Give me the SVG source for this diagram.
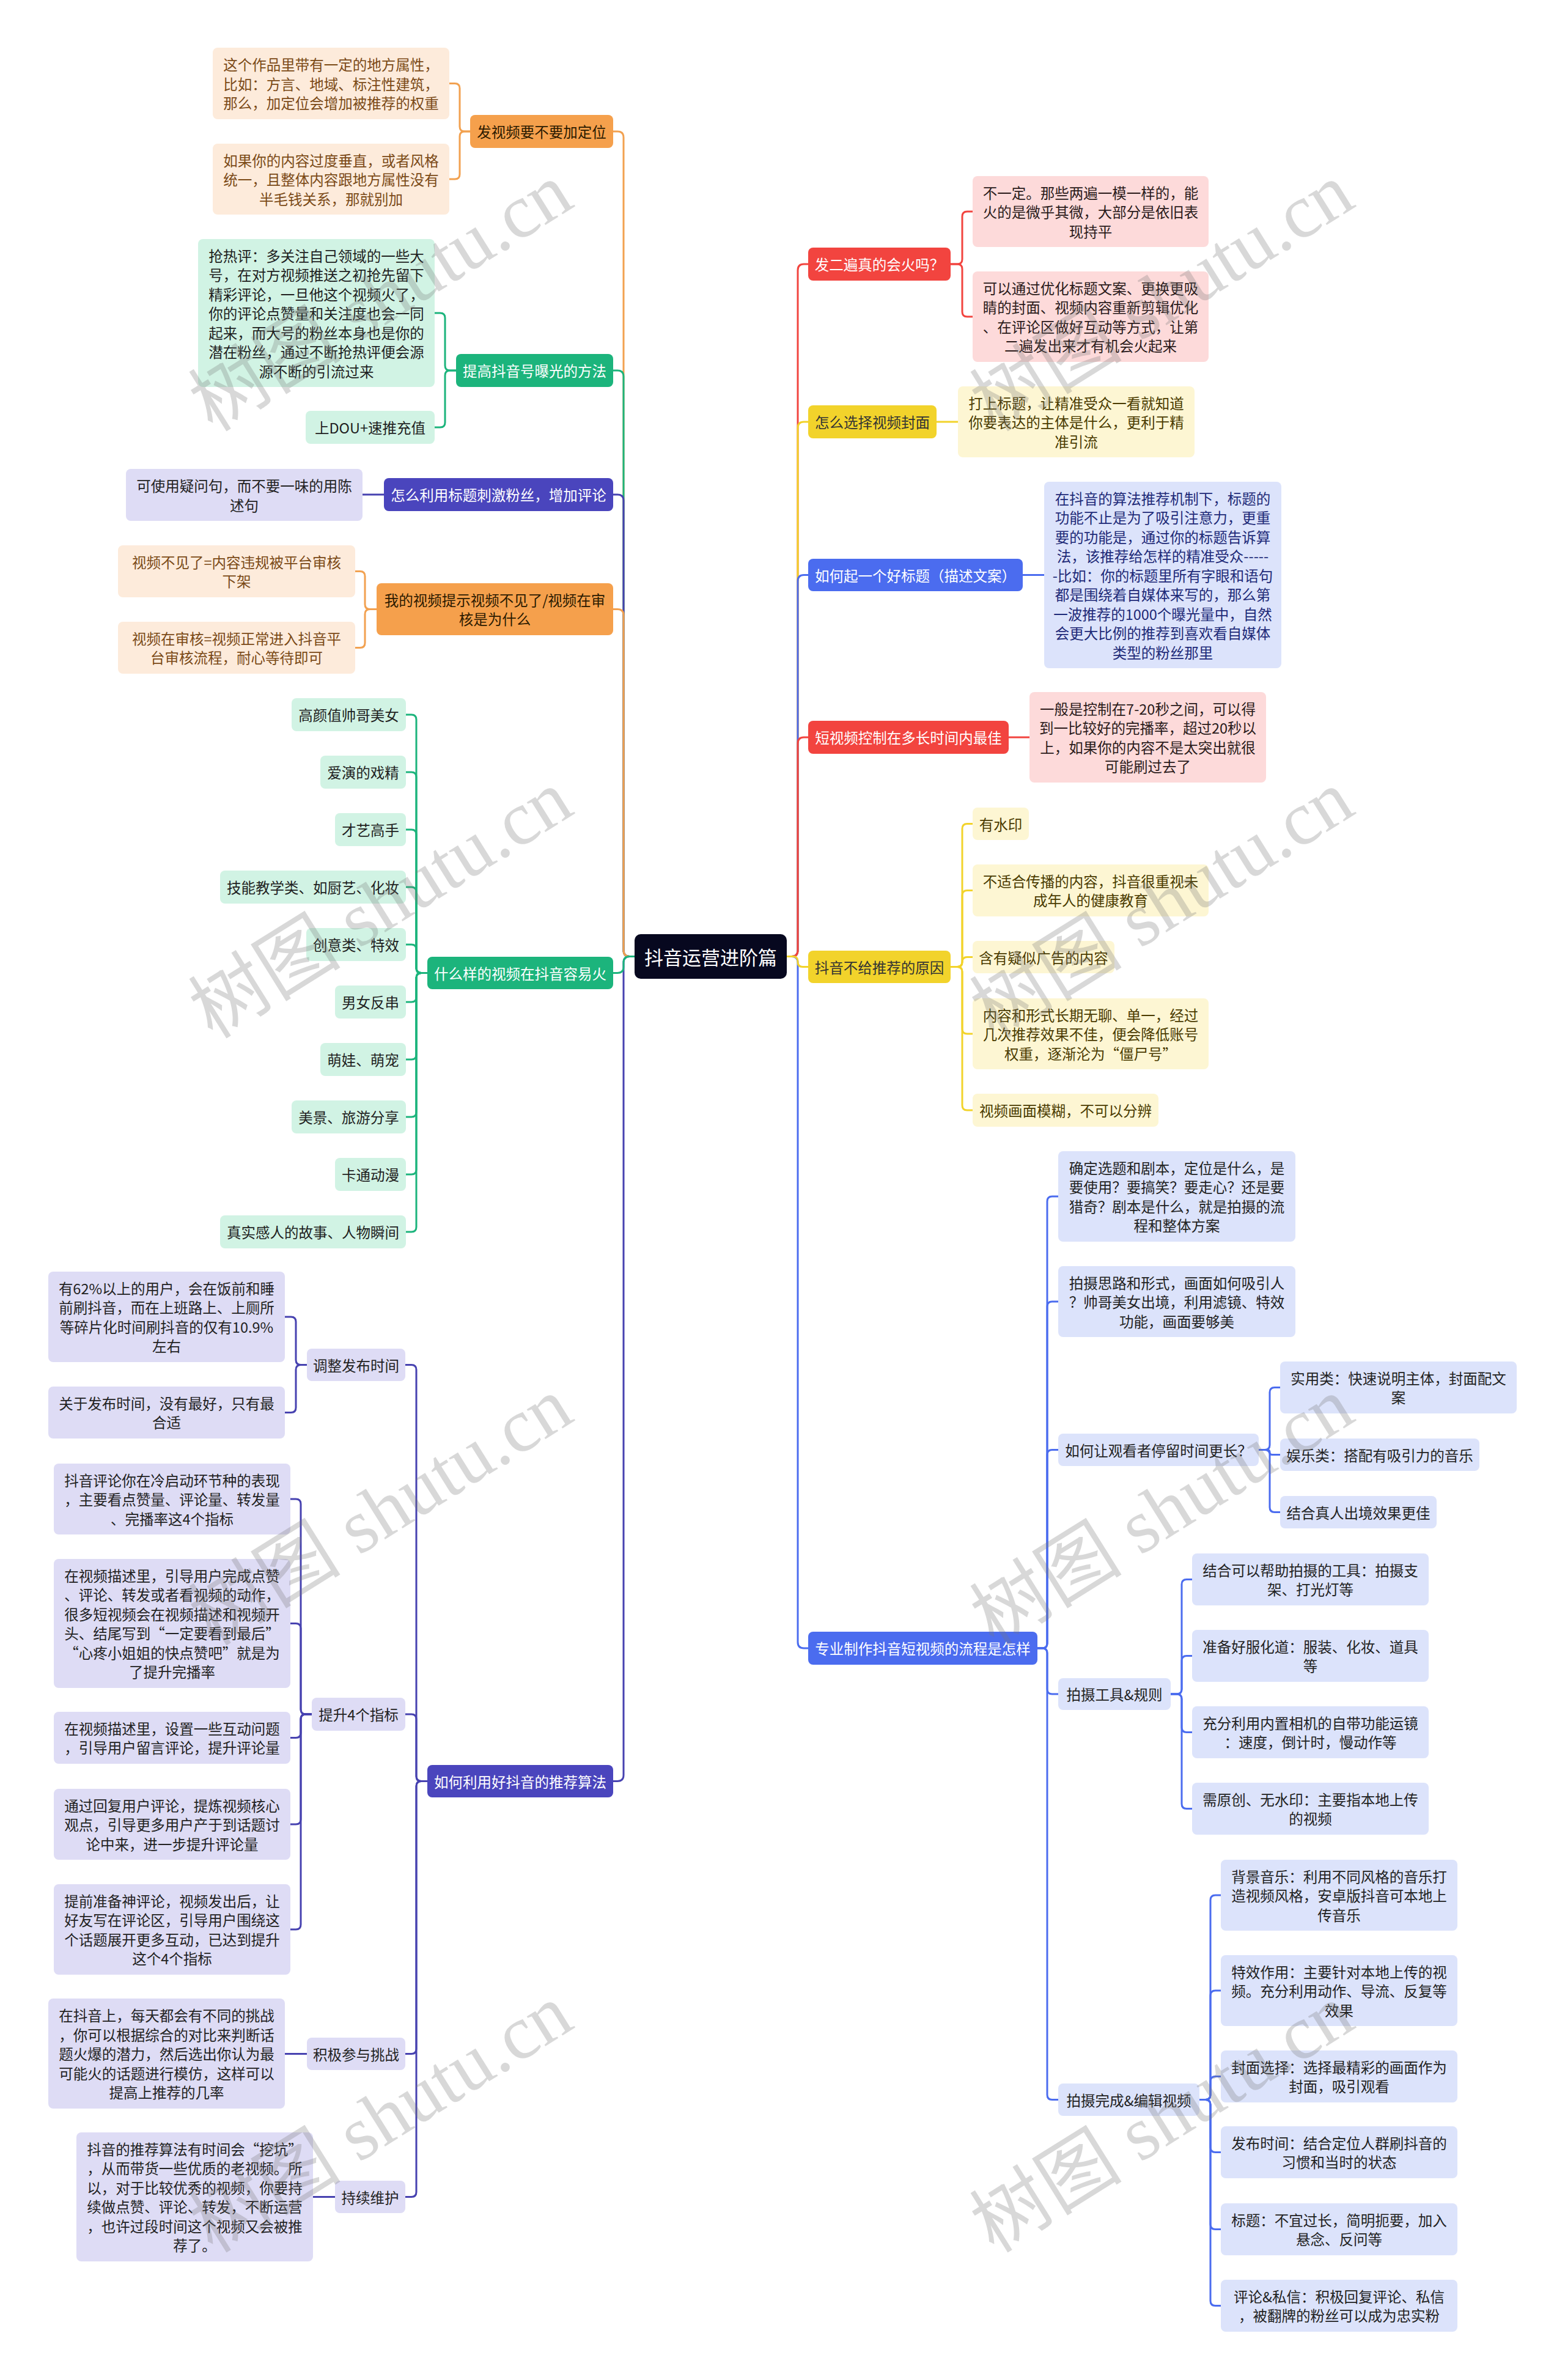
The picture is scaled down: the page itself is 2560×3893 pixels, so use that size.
<svg xmlns="http://www.w3.org/2000/svg" width="2560" height="3893" viewBox="0 0 2560 3893">
<style>
text{font-family:"Noto Sans CJK SC","Noto Sans",sans-serif;font-size:23.5px;text-anchor:middle;dominant-baseline:central}
.c{fill:none;stroke-width:3;stroke-linecap:round;stroke-linejoin:round}
.co{stroke:#F2A150}.cg{stroke:#1CB47C}.ci{stroke:#4742B0}.cr{stroke:#F2443F}.cy{stroke:#F2D32B}.cb{stroke:#4B6CEF}
.no rect{fill:#F5A04C}.no text{fill:#2b1a00}
.ng rect{fill:#1CB47C}.ng text{fill:#fff}
.ni rect{fill:#4A45BD}.ni text{fill:#fff}
.nr rect{fill:#F2443F}.nr text{fill:#fff}
.ny rect{fill:#F2D32B}.ny text{fill:#333}
.nb rect{fill:#4B6CEF}.nb text{fill:#fff}
.lo rect{fill:#FDEBDB}.lo text{fill:#7B4A17}
.lg rect{fill:#D1F3E4}.lg text{fill:#1f1f1f}
.li rect{fill:#DEDCF5}.li text{fill:#222}
.lr rect{fill:#FDDADA}.lr text{fill:#2a1a1a}
.ly rect{fill:#FDF6D3}.ly text{fill:#4a3b00}
.lb rect{fill:#DCE3FB}.lb text{fill:#222}
.lbn text{fill:#1E2A78}
.wm{font-family:"Liberation Serif","Noto Sans CJK SC",serif;font-size:125px;fill:#777;opacity:0.28;text-anchor:start;dominant-baseline:alphabetic}
</style>
<g id="connectors">
<path class="c co" d="M1038,1564.5 H1030 Q1020,1564.5 1020,1554.5 V225 Q1020,215 1010,215 H1003"/>
<path class="c ci" d="M1038,1564.5 H1030 Q1020,1564.5 1020,1574.5 V2903.5 Q1020,2913.5 1010,2913.5 H1003"/>
<path class="c cg" d="M1038,1564.5 H1030 Q1020,1564.5 1020,1554.5 V616 Q1020,606 1010,606 H1003"/>
<path class="c ci" d="M1038,1564.5 H1030 Q1020,1564.5 1020,1554.5 V819 Q1020,809 1010,809 H1003"/>
<path class="c co" d="M1038,1564.5 H1030 Q1020,1564.5 1020,1554.5 V1006.5 Q1020,996.5 1010,996.5 H1003"/>
<path class="c cg" d="M1038,1564.5 H1030 Q1020,1564.5 1020,1574.5 V1581.5 Q1020,1591.5 1010,1591.5 H1003"/>
<path class="c cr" d="M1287,1564.5 H1295 Q1305,1564.5 1305,1554.5 V442 Q1305,432 1315,432 H1322"/>
<path class="c cb" d="M1287,1564.5 H1295 Q1305,1564.5 1305,1574.5 V2686 Q1305,2696 1315,2696 H1322"/>
<path class="c cy" d="M1287,1564.5 H1295 Q1305,1564.5 1305,1554.5 V700 Q1305,690 1315,690 H1322"/>
<path class="c cb" d="M1287,1564.5 H1295 Q1305,1564.5 1305,1554.5 V950.5 Q1305,940.5 1315,940.5 H1322"/>
<path class="c cr" d="M1287,1564.5 H1295 Q1305,1564.5 1305,1554.5 V1216 Q1305,1206 1315,1206 H1322"/>
<path class="c cy" d="M1287,1564.5 H1297 Q1305,1564.5 1305,1572.5 V1573.5 Q1305,1581.5 1313,1581.5 H1322"/>
<path class="c co" d="M769,215 H760 Q752,215 752,207 V144.5 Q752,136.5 744,136.5 H735"/>
<path class="c co" d="M769,215 H760 Q752,215 752,223 V285 Q752,293 744,293 H735"/>
<path class="c cg" d="M746,606 H736 Q728,606 728,598 V520 Q728,512 720,512 H711"/>
<path class="c cg" d="M746,606 H736 Q728,606 728,614 V691 Q728,699 720,699 H711"/>
<path class="c ci" d="M628,809 H593"/>
<path class="c co" d="M616,996.5 H605 Q597,996.5 597,988.5 V942.5 Q597,934.5 589,934.5 H581"/>
<path class="c co" d="M616,996.5 H605 Q597,996.5 597,1004.5 V1051.5 Q597,1059.5 589,1059.5 H581"/>
<path class="c cg" d="M699,1591.5 H689 Q681,1591.5 681,1583.5 V1177 Q681,1169 673,1169 H664"/>
<path class="c cg" d="M699,1591.5 H689 Q681,1591.5 681,1583.5 V1271 Q681,1263 673,1263 H664"/>
<path class="c cg" d="M699,1591.5 H689 Q681,1591.5 681,1583.5 V1365 Q681,1357 673,1357 H664"/>
<path class="c cg" d="M699,1591.5 H689 Q681,1591.5 681,1583.5 V1459 Q681,1451 673,1451 H664"/>
<path class="c cg" d="M699,1591.5 H689 Q681,1591.5 681,1583.5 V1553 Q681,1545 673,1545 H664"/>
<path class="c cg" d="M699,1591.5 H689 Q681,1591.5 681,1599.5 V1631 Q681,1639 673,1639 H664"/>
<path class="c cg" d="M699,1591.5 H689 Q681,1591.5 681,1599.5 V1725 Q681,1733 673,1733 H664"/>
<path class="c cg" d="M699,1591.5 H689 Q681,1591.5 681,1599.5 V1819 Q681,1827 673,1827 H664"/>
<path class="c cg" d="M699,1591.5 H689 Q681,1591.5 681,1599.5 V1913 Q681,1921 673,1921 H664"/>
<path class="c cg" d="M699,1591.5 H689 Q681,1591.5 681,1599.5 V2007 Q681,2015 673,2015 H664"/>
<path class="c ci" d="M699,2913.5 H689 Q681,2913.5 681,2905.5 V2240.5 Q681,2232.5 673,2232.5 H663"/>
<path class="c ci" d="M699,2913.5 H689 Q681,2913.5 681,2905.5 V2812 Q681,2804 673,2804 H663"/>
<path class="c ci" d="M699,2913.5 H689 Q681,2913.5 681,2921.5 V3351.5 Q681,3359.5 673,3359.5 H663"/>
<path class="c ci" d="M699,2913.5 H689 Q681,2913.5 681,2921.5 V3585.5 Q681,3593.5 673,3593.5 H663"/>
<path class="c ci" d="M502,2232.5 H492 Q484,2232.5 484,2224.5 V2162 Q484,2154 476,2154 H466"/>
<path class="c ci" d="M502,2232.5 H492 Q484,2232.5 484,2240.5 V2302.5 Q484,2310.5 476,2310.5 H466"/>
<path class="c ci" d="M510,2804 H500 Q492,2804 492,2796 V2460 Q492,2452 484,2452 H475"/>
<path class="c ci" d="M510,2804 H500 Q492,2804 492,2796 V2663.5 Q492,2655.5 484,2655.5 H475"/>
<path class="c ci" d="M510,2804 H500 Q492,2804 492,2812 V2834.5 Q492,2842.5 484,2842.5 H475"/>
<path class="c ci" d="M510,2804 H500 Q492,2804 492,2812 V2976 Q492,2984 484,2984 H475"/>
<path class="c ci" d="M510,2804 H500 Q492,2804 492,2812 V3148 Q492,3156 484,3156 H475"/>
<path class="c ci" d="M502,3359.5 H466"/>
<path class="c ci" d="M548,3593.5 H512"/>
<path class="c cr" d="M1555,432 H1566 Q1574,432 1574,424 V354 Q1574,346 1582,346 H1591"/>
<path class="c cr" d="M1555,432 H1566 Q1574,432 1574,440 V510 Q1574,518 1582,518 H1591"/>
<path class="c cy" d="M1532,690 H1567"/>
<path class="c cb" d="M1673,940.5 H1708"/>
<path class="c cr" d="M1650,1206 H1684"/>
<path class="c cy" d="M1555,1581.5 H1566 Q1574,1581.5 1574,1573.5 V1355.5 Q1574,1347.5 1582,1347.5 H1591"/>
<path class="c cy" d="M1555,1581.5 H1566 Q1574,1581.5 1574,1573.5 V1464.5 Q1574,1456.5 1582,1456.5 H1591"/>
<path class="c cy" d="M1555,1581.5 H1566 Q1574,1581.5 1574,1573.5 Q1574,1565.5 1582,1565.5 H1591"/>
<path class="c cy" d="M1555,1581.5 H1566 Q1574,1581.5 1574,1589.5 V1683 Q1574,1691 1582,1691 H1591"/>
<path class="c cy" d="M1555,1581.5 H1566 Q1574,1581.5 1574,1589.5 V1808 Q1574,1816 1582,1816 H1591"/>
<path class="c cb" d="M1697,2696 H1705 Q1713,2696 1713,2688 V1965 Q1713,1957 1721,1957 H1731"/>
<path class="c cb" d="M1697,2696 H1705 Q1713,2696 1713,2688 V2137 Q1713,2129 1721,2129 H1731"/>
<path class="c cb" d="M1697,2696 H1705 Q1713,2696 1713,2688 V2379.5 Q1713,2371.5 1721,2371.5 H1731"/>
<path class="c cb" d="M1697,2696 H1705 Q1713,2696 1713,2704 V2763 Q1713,2771 1721,2771 H1731"/>
<path class="c cb" d="M1697,2696 H1705 Q1713,2696 1713,2704 V3426.5 Q1713,3434.5 1721,3434.5 H1731"/>
<path class="c cb" d="M2059,2371.5 H2069 Q2077,2371.5 2077,2363.5 V2277.5 Q2077,2269.5 2085,2269.5 H2094"/>
<path class="c cb" d="M2059,2371.5 H2073 Q2077,2371.5 2077,2375.5 Q2077,2379.5 2081,2379.5 H2094"/>
<path class="c cb" d="M2059,2371.5 H2069 Q2077,2371.5 2077,2379.5 V2465.5 Q2077,2473.5 2085,2473.5 H2094"/>
<path class="c cb" d="M1915,2771 H1925 Q1933,2771 1933,2763 V2591.5 Q1933,2583.5 1941,2583.5 H1950"/>
<path class="c cb" d="M1915,2771 H1925 Q1933,2771 1933,2763 V2716.5 Q1933,2708.5 1941,2708.5 H1950"/>
<path class="c cb" d="M1915,2771 H1925 Q1933,2771 1933,2779 V2825.5 Q1933,2833.5 1941,2833.5 H1950"/>
<path class="c cb" d="M1915,2771 H1925 Q1933,2771 1933,2779 V2950.5 Q1933,2958.5 1941,2958.5 H1950"/>
<path class="c cb" d="M1962,3434.5 H1972 Q1980,3434.5 1980,3426.5 V3108 Q1980,3100 1988,3100 H1997"/>
<path class="c cb" d="M1962,3434.5 H1972 Q1980,3434.5 1980,3426.5 V3264 Q1980,3256 1988,3256 H1997"/>
<path class="c cb" d="M1962,3434.5 H1972 Q1980,3434.5 1980,3426.5 V3404.5 Q1980,3396.5 1988,3396.5 H1997"/>
<path class="c cb" d="M1962,3434.5 H1972 Q1980,3434.5 1980,3442.5 V3512.5 Q1980,3520.5 1988,3520.5 H1997"/>
<path class="c cb" d="M1962,3434.5 H1972 Q1980,3434.5 1980,3442.5 V3638.5 Q1980,3646.5 1988,3646.5 H1997"/>
<path class="c cb" d="M1962,3434.5 H1972 Q1980,3434.5 1980,3442.5 V3763.5 Q1980,3771.5 1988,3771.5 H1997"/>
</g>
<g id="root"><rect x="1038" y="1528" width="249" height="73" rx="10" fill="#07081F"/><text x="1162.5" y="1564.5" style="font-size:31px;fill:#fff">抖音运营进阶篇</text></g>
<g id="n-dingwei" class="no"><rect x="769" y="188" width="234" height="54" rx="8"/><text x="886" y="215">发视频要不要加定位</text></g>
<g id="n-dingwei-1" class="lo"><rect x="348" y="78" width="387" height="117" rx="8"/><text><tspan x="541.5" y="105">这个作品里带有一定的地方属性，</tspan><tspan x="541.5" y="136.5">比如：方言、地域、标注性建筑，</tspan><tspan x="541.5" y="168">那么，加定位会增加被推荐的权重</tspan></text></g>
<g id="n-dingwei-2" class="lo"><rect x="348" y="235" width="387" height="116" rx="8"/><text><tspan x="541.5" y="261.5">如果你的内容过度垂直，或者风格</tspan><tspan x="541.5" y="293">统一，且整体内容跟地方属性没有</tspan><tspan x="541.5" y="324.5">半毛钱关系，那就别加</tspan></text></g>
<g id="n-baoguang" class="ng"><rect x="746" y="579" width="257" height="54" rx="8"/><text x="874.5" y="606">提高抖音号曝光的方法</text></g>
<g id="n-baoguang-1" class="lg"><rect x="324" y="391" width="387" height="242" rx="8"/><text><tspan x="517.5" y="417.5">抢热评：多关注自己领域的一些大</tspan><tspan x="517.5" y="449">号，在对方视频推送之初抢先留下</tspan><tspan x="517.5" y="480.5">精彩评论，一旦他这个视频火了，</tspan><tspan x="517.5" y="512">你的评论点赞量和关注度也会一同</tspan><tspan x="517.5" y="543.5">起来，而大号的粉丝本身也是你的</tspan><tspan x="517.5" y="575">潜在粉丝，通过不断抢热评便会源</tspan><tspan x="517.5" y="606.5">源不断的引流过来</tspan></text></g>
<g id="n-baoguang-2" class="lg"><rect x="500" y="672" width="211" height="54" rx="8"/><text x="605.5" y="699">上DOU+速推充值</text></g>
<g id="n-biaoti" class="ni"><rect x="628" y="782" width="375" height="54" rx="8"/><text x="815.5" y="809">怎么利用标题刺激粉丝，增加评论</text></g>
<g id="n-biaoti-1" class="li"><rect x="206" y="767" width="387" height="85" rx="8"/><text><tspan x="399.5" y="794">可使用疑问句，而不要一味的用陈</tspan><tspan x="399.5" y="825.5">述句</tspan></text></g>
<g id="n-bujian" class="no"><rect x="616" y="954" width="387" height="85" rx="8"/><text><tspan x="809.5" y="980.75">我的视频提示视频不见了/视频在审</tspan><tspan x="809.5" y="1012.25">核是为什么</tspan></text></g>
<g id="n-bujian-1" class="lo"><rect x="193" y="892" width="388" height="85" rx="8"/><text><tspan x="387" y="918.75">视频不见了=内容违规被平台审核</tspan><tspan x="387" y="950.25">下架</tspan></text></g>
<g id="n-bujian-2" class="lo"><rect x="193" y="1017" width="388" height="85" rx="8"/><text><tspan x="387" y="1043.75">视频在审核=视频正常进入抖音平</tspan><tspan x="387" y="1075.25">台审核流程，耐心等待即可</tspan></text></g>
<g id="n-huo" class="ng"><rect x="699" y="1565" width="304" height="53" rx="8"/><text x="851" y="1591.5">什么样的视频在抖音容易火</text></g>
<g id="n-huo-1" class="lg"><rect x="477" y="1142" width="187" height="54" rx="8"/><text x="570.5" y="1169">高颜值帅哥美女</text></g>
<g id="n-huo-2" class="lg"><rect x="524" y="1236" width="140" height="54" rx="8"/><text x="594" y="1263">爱演的戏精</text></g>
<g id="n-huo-3" class="lg"><rect x="548" y="1330" width="116" height="54" rx="8"/><text x="606" y="1357">才艺高手</text></g>
<g id="n-huo-4" class="lg"><rect x="360" y="1424" width="304" height="54" rx="8"/><text x="512" y="1451">技能教学类、如厨艺、化妆</text></g>
<g id="n-huo-5" class="lg"><rect x="501" y="1518" width="163" height="54" rx="8"/><text x="582.5" y="1545">创意类、特效</text></g>
<g id="n-huo-6" class="lg"><rect x="548" y="1612" width="116" height="54" rx="8"/><text x="606" y="1639">男女反串</text></g>
<g id="n-huo-7" class="lg"><rect x="524" y="1706" width="140" height="54" rx="8"/><text x="594" y="1733">萌娃、萌宠</text></g>
<g id="n-huo-8" class="lg"><rect x="477" y="1800" width="187" height="54" rx="8"/><text x="570.5" y="1827">美景、旅游分享</text></g>
<g id="n-huo-9" class="lg"><rect x="548" y="1894" width="116" height="54" rx="8"/><text x="606" y="1921">卡通动漫</text></g>
<g id="n-huo-10" class="lg"><rect x="360" y="1988" width="304" height="54" rx="8"/><text x="512" y="2015">真实感人的故事、人物瞬间</text></g>
<g id="n-suanfa" class="ni"><rect x="699" y="2887" width="304" height="53" rx="8"/><text x="851" y="2913.5">如何利用好抖音的推荐算法</text></g>
<g id="n-shijian" class="li"><rect x="502" y="2206" width="161" height="53" rx="8"/><text x="582.5" y="2232.5">调整发布时间</text></g>
<g id="n-shijian-1" class="li"><rect x="79" y="2080" width="387" height="148" rx="8"/><text><tspan x="272.5" y="2106.75">有62%以上的用户，会在饭前和睡</tspan><tspan x="272.5" y="2138.25">前刷抖音，而在上班路上、上厕所</tspan><tspan x="272.5" y="2169.75">等碎片化时间刷抖音的仅有10.9%</tspan><tspan x="272.5" y="2201.25">左右</tspan></text></g>
<g id="n-shijian-2" class="li"><rect x="79" y="2268" width="387" height="85" rx="8"/><text><tspan x="272.5" y="2294.75">关于发布时间，没有最好，只有最</tspan><tspan x="272.5" y="2326.25">合适</tspan></text></g>
<g id="n-zhibiao" class="li"><rect x="510" y="2777" width="153" height="54" rx="8"/><text x="586.5" y="2804">提升4个指标</text></g>
<g id="n-zhibiao-1" class="li"><rect x="88" y="2394" width="387" height="116" rx="8"/><text><tspan x="281.5" y="2420.5">抖音评论你在冷启动环节种的表现</tspan><tspan x="281.5" y="2452">，主要看点赞量、评论量、转发量</tspan><tspan x="281.5" y="2483.5">、完播率这4个指标</tspan></text></g>
<g id="n-zhibiao-2" class="li"><rect x="88" y="2550" width="387" height="211" rx="8"/><text><tspan x="281.5" y="2576.75">在视频描述里，引导用户完成点赞</tspan><tspan x="281.5" y="2608.25">、评论、转发或者看视频的动作，</tspan><tspan x="281.5" y="2639.75">很多短视频会在视频描述和视频开</tspan><tspan x="281.5" y="2671.25">头、结尾写到“一定要看到最后”</tspan><tspan x="281.5" y="2702.75">“心疼小姐姐的快点赞吧”就是为</tspan><tspan x="281.5" y="2734.25">了提升完播率</tspan></text></g>
<g id="n-zhibiao-3" class="li"><rect x="88" y="2800" width="387" height="85" rx="8"/><text><tspan x="281.5" y="2826.75">在视频描述里，设置一些互动问题</tspan><tspan x="281.5" y="2858.25">，引导用户留言评论，提升评论量</tspan></text></g>
<g id="n-zhibiao-4" class="li"><rect x="88" y="2926" width="387" height="116" rx="8"/><text><tspan x="281.5" y="2952.5">通过回复用户评论，提炼视频核心</tspan><tspan x="281.5" y="2984">观点，引导更多用户产于到话题讨</tspan><tspan x="281.5" y="3015.5">论中来，进一步提升评论量</tspan></text></g>
<g id="n-zhibiao-5" class="li"><rect x="88" y="3082" width="387" height="148" rx="8"/><text><tspan x="281.5" y="3108.75">提前准备神评论，视频发出后，让</tspan><tspan x="281.5" y="3140.25">好友写在评论区，引导用户围绕这</tspan><tspan x="281.5" y="3171.75">个话题展开更多互动，已达到提升</tspan><tspan x="281.5" y="3203.25">这个4个指标</tspan></text></g>
<g id="n-tiaozhan" class="li"><rect x="502" y="3333" width="161" height="53" rx="8"/><text x="582.5" y="3359.5">积极参与挑战</text></g>
<g id="n-tiaozhan-1" class="li"><rect x="79" y="3269" width="387" height="180" rx="8"/><text><tspan x="272.5" y="3296">在抖音上，每天都会有不同的挑战</tspan><tspan x="272.5" y="3327.5">，你可以根据综合的对比来判断话</tspan><tspan x="272.5" y="3359">题火爆的潜力，然后选出你认为最</tspan><tspan x="272.5" y="3390.5">可能火的话题进行模仿，这样可以</tspan><tspan x="272.5" y="3422">提高上推荐的几率</tspan></text></g>
<g id="n-weihu" class="li"><rect x="548" y="3567" width="115" height="53" rx="8"/><text x="605.5" y="3593.5">持续维护</text></g>
<g id="n-weihu-1" class="li"><rect x="125" y="3488" width="387" height="211" rx="8"/><text><tspan x="318.5" y="3514.75">抖音的推荐算法有时间会“挖坑”</tspan><tspan x="318.5" y="3546.25">，从而带货一些优质的老视频。所</tspan><tspan x="318.5" y="3577.75">以，对于比较优秀的视频，你要持</tspan><tspan x="318.5" y="3609.25">续做点赞、评论、转发，不断运营</tspan><tspan x="318.5" y="3640.75">，也许过段时间这个视频又会被推</tspan><tspan x="318.5" y="3672.25">荐了。</tspan></text></g>
<g id="n-erbian" class="nr"><rect x="1322" y="405" width="233" height="54" rx="8"/><text x="1438.5" y="432">发二遍真的会火吗？</text></g>
<g id="n-erbian-1" class="lr"><rect x="1591" y="288" width="386" height="116" rx="8"/><text><tspan x="1784" y="314.5">不一定。那些两遍一模一样的，能</tspan><tspan x="1784" y="346">火的是微乎其微，大部分是依旧表</tspan><tspan x="1784" y="377.5">现持平</tspan></text></g>
<g id="n-erbian-2" class="lr"><rect x="1591" y="444" width="386" height="148" rx="8"/><text><tspan x="1784" y="470.75">可以通过优化标题文案、更换更吸</tspan><tspan x="1784" y="502.25">睛的封面、视频内容重新剪辑优化</tspan><tspan x="1784" y="533.75">、在评论区做好互动等方式，让第</tspan><tspan x="1784" y="565.25">二遍发出来才有机会火起来</tspan></text></g>
<g id="n-fengmian" class="ny"><rect x="1322" y="663" width="210" height="54" rx="8"/><text x="1427" y="690">怎么选择视频封面</text></g>
<g id="n-fengmian-1" class="ly"><rect x="1567" y="632" width="387" height="116" rx="8"/><text><tspan x="1760.5" y="658.5">打上标题，让精准受众一看就知道</tspan><tspan x="1760.5" y="690">你要表达的主体是什么，更利于精</tspan><tspan x="1760.5" y="721.5">准引流</tspan></text></g>
<g id="n-haobiaoti" class="nb"><rect x="1322" y="914" width="351" height="53" rx="8"/><text x="1497.5" y="940.5">如何起一个好标题（描述文案）</text></g>
<g id="n-haobiaoti-1" class="lb lbn"><rect x="1708" y="788" width="388" height="305" rx="8"/><text><tspan x="1902" y="814.5">在抖音的算法推荐机制下，标题的</tspan><tspan x="1902" y="846">功能不止是为了吸引注意力，更重</tspan><tspan x="1902" y="877.5">要的功能是，通过你的标题告诉算</tspan><tspan x="1902" y="909">法，该推荐给怎样的精准受众-----</tspan><tspan x="1902" y="940.5">-比如：你的标题里所有字眼和语句</tspan><tspan x="1902" y="972">都是围绕着自媒体来写的，那么第</tspan><tspan x="1902" y="1003.5">一波推荐的1000个曝光量中，自然</tspan><tspan x="1902" y="1035">会更大比例的推荐到喜欢看自媒体</tspan><tspan x="1902" y="1066.5">类型的粉丝那里</tspan></text></g>
<g id="n-shichang" class="nr"><rect x="1322" y="1179" width="328" height="54" rx="8"/><text x="1486" y="1206">短视频控制在多长时间内最佳</text></g>
<g id="n-shichang-1" class="lr"><rect x="1684" y="1132" width="387" height="148" rx="8"/><text><tspan x="1877.5" y="1158.75">一般是控制在7-20秒之间，可以得</tspan><tspan x="1877.5" y="1190.25">到一比较好的完播率，超过20秒以</tspan><tspan x="1877.5" y="1221.75">上，如果你的内容不是太突出就很</tspan><tspan x="1877.5" y="1253.25">可能刷过去了</tspan></text></g>
<g id="n-yuanyin" class="ny"><rect x="1322" y="1555" width="233" height="53" rx="8"/><text x="1438.5" y="1581.5">抖音不给推荐的原因</text></g>
<g id="n-yuanyin-1" class="ly"><rect x="1591" y="1321" width="92" height="53" rx="8"/><text x="1637" y="1347.5">有水印</text></g>
<g id="n-yuanyin-2" class="ly"><rect x="1591" y="1414" width="386" height="85" rx="8"/><text><tspan x="1784" y="1440.75">不适合传播的内容，抖音很重视未</tspan><tspan x="1784" y="1472.25">成年人的健康教育</tspan></text></g>
<g id="n-yuanyin-3" class="ly"><rect x="1591" y="1539" width="232" height="53" rx="8"/><text x="1707" y="1565.5">含有疑似广告的内容</text></g>
<g id="n-yuanyin-4" class="ly"><rect x="1591" y="1633" width="386" height="116" rx="8"/><text><tspan x="1784" y="1659.5">内容和形式长期无聊、单一，经过</tspan><tspan x="1784" y="1691">几次推荐效果不佳，便会降低账号</tspan><tspan x="1784" y="1722.5">权重，逐渐沦为“僵尸号”</tspan></text></g>
<g id="n-yuanyin-5" class="ly"><rect x="1591" y="1789" width="304" height="54" rx="8"/><text x="1743" y="1816">视频画面模糊，不可以分辨</text></g>
<g id="n-liucheng" class="nb"><rect x="1322" y="2669" width="375" height="54" rx="8"/><text x="1509.5" y="2696">专业制作抖音短视频的流程是怎样</text></g>
<g id="n-liucheng-1" class="lb"><rect x="1731" y="1883" width="388" height="148" rx="8"/><text><tspan x="1925" y="1909.75">确定选题和剧本，定位是什么，是</tspan><tspan x="1925" y="1941.25">要使用？要搞笑？要走心？还是要</tspan><tspan x="1925" y="1972.75">猎奇？剧本是什么，就是拍摄的流</tspan><tspan x="1925" y="2004.25">程和整体方案</tspan></text></g>
<g id="n-liucheng-2" class="lb"><rect x="1731" y="2071" width="388" height="116" rx="8"/><text><tspan x="1925" y="2097.5">拍摄思路和形式，画面如何吸引人</tspan><tspan x="1925" y="2129">？帅哥美女出境，利用滤镜、特效</tspan><tspan x="1925" y="2160.5">功能，画面要够美</tspan></text></g>
<g id="n-tingliu" class="lb"><rect x="1731" y="2345" width="328" height="53" rx="8"/><text x="1895" y="2371.5">如何让观看者停留时间更长？</text></g>
<g id="n-tingliu-1" class="lb"><rect x="2094" y="2227" width="387" height="85" rx="8"/><text><tspan x="2287.5" y="2253.75">实用类：快速说明主体，封面配文</tspan><tspan x="2287.5" y="2285.25">案</tspan></text></g>
<g id="n-tingliu-2" class="lb"><rect x="2094" y="2353" width="326" height="53" rx="8"/><text x="2257" y="2379.5">娱乐类：搭配有吸引力的音乐</text></g>
<g id="n-tingliu-3" class="lb"><rect x="2094" y="2447" width="256" height="53" rx="8"/><text x="2222" y="2473.5">结合真人出境效果更佳</text></g>
<g id="n-gongju" class="lb"><rect x="1731" y="2745" width="184" height="52" rx="8"/><text x="1823" y="2771">拍摄工具&amp;规则</text></g>
<g id="n-gongju-1" class="lb"><rect x="1950" y="2541" width="387" height="85" rx="8"/><text><tspan x="2143.5" y="2567.75">结合可以帮助拍摄的工具：拍摄支</tspan><tspan x="2143.5" y="2599.25">架、打光灯等</tspan></text></g>
<g id="n-gongju-2" class="lb"><rect x="1950" y="2666" width="387" height="85" rx="8"/><text><tspan x="2143.5" y="2692.75">准备好服化道：服装、化妆、道具</tspan><tspan x="2143.5" y="2724.25">等</tspan></text></g>
<g id="n-gongju-3" class="lb"><rect x="1950" y="2791" width="387" height="85" rx="8"/><text><tspan x="2143.5" y="2817.75">充分利用内置相机的自带功能运镜</tspan><tspan x="2143.5" y="2849.25">：速度，倒计时，慢动作等</tspan></text></g>
<g id="n-gongju-4" class="lb"><rect x="1950" y="2916" width="387" height="85" rx="8"/><text><tspan x="2143.5" y="2942.75">需原创、无水印：主要指本地上传</tspan><tspan x="2143.5" y="2974.25">的视频</tspan></text></g>
<g id="n-bianji" class="lb"><rect x="1731" y="3408" width="231" height="53" rx="8"/><text x="1846.5" y="3434.5">拍摄完成&amp;编辑视频</text></g>
<g id="n-bianji-1" class="lb"><rect x="1997" y="3042" width="387" height="116" rx="8"/><text><tspan x="2190.5" y="3068.5">背景音乐：利用不同风格的音乐打</tspan><tspan x="2190.5" y="3100">造视频风格，安卓版抖音可本地上</tspan><tspan x="2190.5" y="3131.5">传音乐</tspan></text></g>
<g id="n-bianji-2" class="lb"><rect x="1997" y="3198" width="387" height="116" rx="8"/><text><tspan x="2190.5" y="3224.5">特效作用：主要针对本地上传的视</tspan><tspan x="2190.5" y="3256">频。充分利用动作、导流、反复等</tspan><tspan x="2190.5" y="3287.5">效果</tspan></text></g>
<g id="n-bianji-3" class="lb"><rect x="1997" y="3354" width="387" height="85" rx="8"/><text><tspan x="2190.5" y="3380.75">封面选择：选择最精彩的画面作为</tspan><tspan x="2190.5" y="3412.25">封面，吸引观看</tspan></text></g>
<g id="n-bianji-4" class="lb"><rect x="1997" y="3478" width="387" height="85" rx="8"/><text><tspan x="2190.5" y="3504.75">发布时间：结合定位人群刷抖音的</tspan><tspan x="2190.5" y="3536.25">习惯和当时的状态</tspan></text></g>
<g id="n-bianji-5" class="lb"><rect x="1997" y="3604" width="387" height="85" rx="8"/><text><tspan x="2190.5" y="3630.75">标题：不宜过长，简明扼要，加入</tspan><tspan x="2190.5" y="3662.25">悬念、反问等</tspan></text></g>
<g id="n-bianji-6" class="lb"><rect x="1997" y="3729" width="387" height="85" rx="8"/><text><tspan x="2190.5" y="3755.75">评论&amp;私信：积极回复评论、私信</tspan><tspan x="2190.5" y="3787.25">，被翻牌的粉丝可以成为忠实粉</tspan></text></g>
<g id="watermarks">
<text class="wm" transform="translate(348,708) rotate(-32)">树图 shutu.cn</text>
<text class="wm" transform="translate(1626,708) rotate(-32)">树图 shutu.cn</text>
<text class="wm" transform="translate(348,1701) rotate(-32)">树图 shutu.cn</text>
<text class="wm" transform="translate(1626,1701) rotate(-32)">树图 shutu.cn</text>
<text class="wm" transform="translate(348,2694) rotate(-32)">树图 shutu.cn</text>
<text class="wm" transform="translate(1626,2694) rotate(-32)">树图 shutu.cn</text>
<text class="wm" transform="translate(348,3687) rotate(-32)">树图 shutu.cn</text>
<text class="wm" transform="translate(1626,3687) rotate(-32)">树图 shutu.cn</text>
</g>
</svg>
